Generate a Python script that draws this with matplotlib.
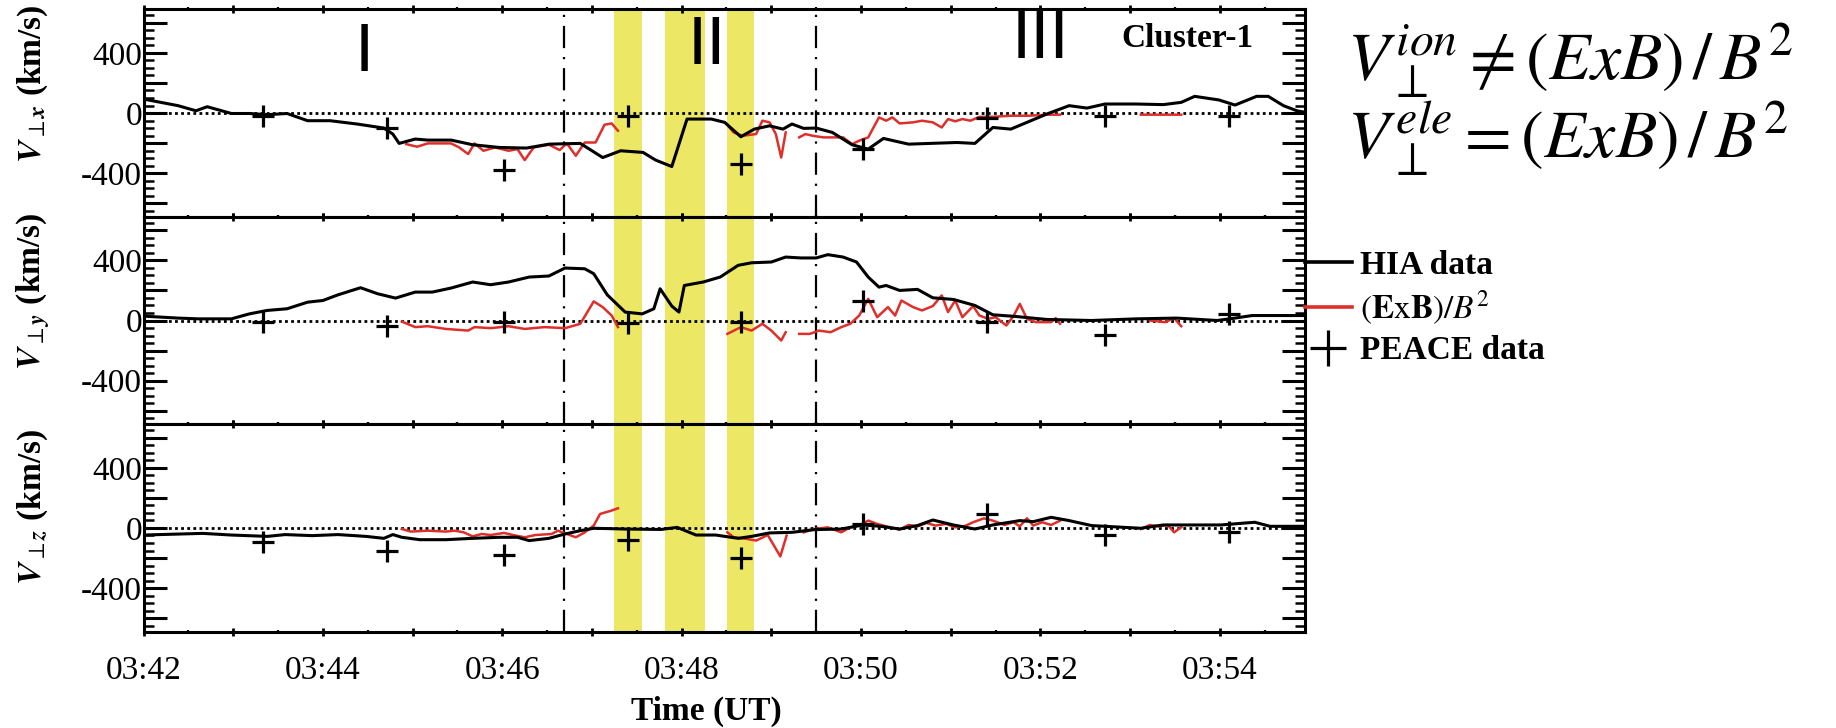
import numpy as np
import matplotlib
matplotlib.use("Agg")
import matplotlib.pyplot as plt
from matplotlib.ticker import MultipleLocator, FuncFormatter

plt.rcParams["font.family"] = "serif"
plt.rcParams["font.serif"] = ["Liberation Serif", "DejaVu Serif"]
plt.rcParams["mathtext.fontset"] = "stix"

NAN = np.nan

# time axis in minutes after 03:42 UT
T_END = 12.95

# HIA perpendicular ion velocity (km/s)
hia_x_t = [0, 0.385, 0.585, 0.71, 0.98, 1.18, 1.38, 1.6, 1.83, 2.08, 2.38, 2.68, 2.78, 2.85,
           3.03, 3.17, 3.43, 3.67, 3.97, 4.27, 4.52, 4.87, 5.12, 5.32, 5.57, 5.71, 5.89, 6.06,
           6.33, 6.48, 6.66, 6.81, 6.98, 7.13, 7.23, 7.36, 7.5, 7.68, 7.9, 8.08, 8.25, 8.53,
           8.77, 9.07, 9.27, 9.47, 9.67, 10.07, 10.32, 10.52, 10.72, 11.07, 11.37, 11.57,
           11.72, 11.99, 12.17, 12.41, 12.54, 12.71, 12.86, 12.95]
hia_x = [93, 49, 15, 42, -3, -3, -11, -3, -51, -51, -73, -100, -140, -202,
         -173, -180, -180, -211, -229, -233, -207, -202, -296, -251, -262, -313, -356, -40,
         -40, -62, -158, -107, -85, -107, -73, -102, -100, -129, -211, -240, -169, -207,
         -202, -196, -202, -96, -107, -7, 49, 33, 60, 60, 56, 71,
         111, 87, 53, 111, 111, 49, 15, 5]

hia_y_t = [0, 0.385, 0.61, 0.98, 1.18, 1.38, 1.6, 1.83, 2.0, 2.17, 2.42, 2.61, 2.81, 3.03,
           3.22, 3.43, 3.67, 3.87, 4.07, 4.3, 4.52, 4.7, 4.92, 5.02, 5.17, 5.37, 5.56, 5.69,
           5.76, 5.89, 5.97, 6.03, 6.24, 6.43, 6.63, 6.78, 7.0, 7.16, 7.33, 7.5, 7.63, 7.8,
           7.95, 8.08, 8.2, 8.28, 8.43, 8.63, 8.8, 9.03, 9.27, 9.47, 9.72, 10.07, 10.57,
           11.07, 11.52, 11.97, 12.17, 12.36, 12.95]
hia_y = [29, 16, 11, 11, 44, 67, 78, 122, 133, 171, 218, 178, 149, 189,
         189, 216, 256, 238, 256, 289, 296, 349, 344, 311, 171, 56, 44, 78,
         211, 96, 56, 233, 256, 289, 367, 384, 389, 422, 416, 416, 438, 422,
         389, 289, 222, 233, 200, 207, 151, 140, 100, 38, 27, 7, 0,
         11, 16, 0, 16, 33, 33]

hia_z_t = [0, 0.66, 0.98, 1.38, 1.58, 1.88, 2.17, 2.48, 2.68, 2.78, 2.88, 3.08, 3.37, 3.67,
           3.97, 4.17, 4.3, 4.52, 4.7, 4.87, 5.02, 5.37, 5.77, 5.95, 6.16, 6.38, 6.63, 6.78,
           6.98, 7.23, 7.48, 7.78, 8.02, 8.22, 8.43, 8.63, 8.8, 9.03, 9.27, 9.47, 9.77, 9.92,
           10.12, 10.32, 10.57, 11.12, 11.37, 12.01, 12.39, 12.56, 12.95]
hia_z = [-47, -36, -47, -56, -44, -51, -44, -56, -69, -44, -62, -78, -78, -69,
         -62, -62, -84, -69, -40, -18, -2, -7, -10, 4, -47, -47, -69, -56,
         -33, -29, -11, -7, 20, 11, -7, 16, 53, 20, -7, 20, 49, 42,
         71, 49, 16, -2, 20, 20, 38, 11, 11]

# E x B / B^2 drift (km/s), NaN marks data gaps
exb_x_t = [2.93, 3.05, 3.17, 3.43, 3.52, 3.62, 3.69, 3.79, 3.92, 4.07, 4.17, 4.25, 4.35, 4.52,
           4.64, 4.72, 4.82, 4.92, 5.04, 5.14, 5.22, 5.29, 5.9,
           6.5, 6.58, 6.68, 6.83, 6.9, 6.98, 7.05, 7.11, 7.16, 7.24,
           7.31, 7.38, 7.46, 7.58, 7.68, 7.8, 7.9, 7.98, 8.08, 8.2, 8.28, 8.35, 8.43, 8.58,
           8.68, 8.8, 8.9, 8.97, 9.05, 9.13, 9.22, 9.32, 9.47, 9.67, 9.87, 10.07, 10.22, 10.6,
           11.12, 11.57]
exb_x = [-207, -224, -202, -202, -229, -273, -202, -251, -229, -251, -240, -313, -229, -211,
         -246, -202, -284, -196, -196, -78, -69, -118, NAN,
         -73, -129, -151, -140, -51, -62, -140, -296, -129, NAN,
         -162, -140, -151, -162, -162, -162, -207, -184, -162, -29, -51, -29, -69, -62,
         -51, -62, -96, -40, -55, -40, -51, -25, -25, -18, -18, -11, -11, NAN,
         -11, -11]

exb_y_t = [2.88, 3.03, 3.17, 3.37, 3.62, 3.69, 3.87, 4.07, 4.25, 4.47, 4.7, 4.87, 5.02, 5.12,
           5.22, 5.29, 5.9,
           6.51, 6.66, 6.78, 6.9, 7.0, 7.11, 7.16, 7.24,
           7.31, 7.43, 7.53, 7.66, 7.78, 7.88, 7.98, 8.08, 8.18, 8.3, 8.38, 8.45, 8.58, 8.68,
           8.8, 8.9, 8.97, 9.05, 9.13, 9.25, 9.32, 9.42, 9.5, 9.62, 9.7, 9.77, 9.85, 9.95,
           10.12, 10.17, 10.22, 10.7,
           11.22, 11.39, 11.49, 11.57]
exb_y = [-7, -44, -38, -56, -67, -44, -51, -38, -56, -44, -51, -22, 127, 89,
         33, -44, NAN,
         -89, -44, -67, -22, -67, -133, -78, NAN,
         -89, -89, -67, -78, -44, -22, 33, 144, 22, 89, 33, 133, 89, 67,
         96, 167, 56, 133, 22, 96, 33, 11, 22, -33, 29, 111, 11, -11,
         -11, 16, -22, NAN,
         0, -11, 16, -38]

exb_z_t = [2.88, 2.98, 3.17, 3.37, 3.47, 3.57, 3.67, 3.77, 3.87, 4.02, 4.12, 4.25, 4.37, 4.55,
           4.62, 4.72, 4.82, 4.92, 5.02, 5.09, 5.22, 5.29, 5.9,
           6.51, 6.58, 6.73, 6.83, 6.96, 7.1, 7.17, 7.26,
           7.36, 7.48, 7.63, 7.78, 7.88, 7.98, 8.08, 8.18, 8.28, 8.43, 8.53, 8.63, 8.73, 8.83,
           8.95, 9.05, 9.15, 9.25, 9.37, 9.47, 9.6, 9.7, 9.77, 9.85, 9.92, 10.02, 10.12, 10.22,
           10.7,
           11.12, 11.22, 11.32, 11.42, 11.49, 11.57]
exb_z = [-7, -24, -18, -24, -18, -29, -56, -40, -47, -33, -47, -62, -47, -40,
         -18, -40, -62, -29, 16, 93, 116, 131, NAN,
         -29, -62, -73, -84, -47, -189, -51, NAN,
         -29, -7, 4, -29, 4, 16, 49, 27, 11, -11, 20, 11, 33, 16,
         27, 4, 11, 38, 64, 49, 20, 38, 11, 64, 16, 38, 20, 49,
         NAN,
         -7, 20, 11, 20, -29, 4]

# PEACE electron velocity (km/s)
peace_t = [1.33, 2.72, 4.02, 5.4, 6.66, 8.02, 9.41, 10.72, 12.1]
peace_x = [-18, -100, -380, -18, -340, -240, -33, -18, -18]
peace_y = [-11, -38, -7, -16, -7, 133, -11, -96, 44]
peace_z = [-96, -151, -180, -78, -202, 27, 93, -47, -24]

# boundaries of regions I / II / III and the shaded intervals
boundary_t = [4.69, 7.50]
shade_start = [5.25, 5.81, 6.505]
shade_end = [5.557, 6.263, 6.812]

components = ["x", "y", "z"]
label_y = [0.64, 0.64, 0.60]

RED = "#DE2F2A"
YELLOW = "#ECE866"
W, H = 1836, 728

fig = plt.figure(figsize=(W / 100, H / 100), dpi=100)
left, right = 143.5 / W, 1305 / W
top, bottom = 1 - 9.3 / H, 1 - 631.7 / H
ph = (top - bottom) / 3

series = [
    (hia_x_t, hia_x, exb_x_t, exb_x, peace_x),
    (hia_y_t, hia_y, exb_y_t, exb_y, peace_y),
    (hia_z_t, hia_z, exb_z_t, exb_z, peace_z),
]

axes = []
for i, (ht, hv, et, ev, pv) in enumerate(series):
    ax = fig.add_axes([left, top - (i + 1) * ph, right - left, ph])
    axes.append(ax)
    for s0, s1 in zip(shade_start, shade_end):
        ax.axvspan(s0, s1, color=YELLOW, lw=0, zorder=0)
    ax.axhline(0, color="black", ls=(0, (1, 1.2)), lw=2.0, zorder=1)
    for bt in boundary_t:
        ax.axvline(bt, color="black", lw=1.6, ls=(0, (10, 4, 1, 4)), zorder=1)
    hia_line, = ax.plot(ht, hv, color="black", lw=2.2, zorder=3, label="HIA data")
    exb_line, = ax.plot(et, ev, color=RED, lw=1.8, zorder=2,
                        label=r"$(\mathbf{E}\mathrm{x}\mathbf{B})/B^{2}$")
    peace_pts, = ax.plot(peace_t, pv, ls="none", marker="+", ms=16, mew=2.3,
                         color="black", zorder=4, label="PEACE data")
    if i == 0:
        handles = [hia_line, exb_line, peace_pts]

    ax.set_xlim(0, T_END)
    ax.set_ylim(-690, 690)
    ax.xaxis.set_major_locator(MultipleLocator(1))
    ax.xaxis.set_minor_locator(MultipleLocator(0.5))
    ax.yaxis.set_major_locator(MultipleLocator(200))
    ax.yaxis.set_minor_locator(MultipleLocator(50))
    ax.yaxis.set_major_formatter(FuncFormatter(
        lambda v, p: f"{int(round(v))}" if int(round(v)) in (-400, 0, 400) else ""))
    ax.tick_params(axis="y", which="major", direction="in", length=16.5, width=2.2,
                   left=True, right=True, labelsize=24, pad=1)
    ax.tick_params(axis="y", which="minor", direction="in", length=7.2, width=1.8,
                   left=True, right=True)
    ax.tick_params(axis="x", which="major", direction="inout", length=6, width=2,
                   top=True, bottom=True, labelsize=24, pad=14)
    ax.tick_params(axis="x", which="minor", direction="inout", length=3, width=1.6,
                   top=True, bottom=True)
    for sp in ax.spines.values():
        sp.set_linewidth(2.2)
    ax.set_ylabel(r"$\mathbfit{V}_{\perp\mathbfit{" + components[i] + r"}}$ (km/s)",
                  fontsize=24, fontweight="bold")
    ax.yaxis.label.set_va("center")
    ax.yaxis.set_label_coords(-0.095, label_y[i])
    if i < 2:
        ax.tick_params(axis="x", labelbottom=False)

axes[2].xaxis.set_major_formatter(FuncFormatter(
    lambda v, p: f"03:{42 + int(round(v)):02d}" if int(round(v)) % 2 == 0 else ""))
axes[2].set_xlabel("Time (UT)", fontsize=24, fontweight="bold", va="center")
axes[2].xaxis.set_label_coords(0.4845, -0.385)

# region labels and spacecraft name
ax1 = axes[0]
for txt, xf, yf in [("I", 0.19, 0.79), ("II", 0.485, 0.825), ("III", 0.772, 0.85)]:
    ax1.text(xf, yf, txt, transform=ax1.transAxes, ha="center", va="center",
             fontsize=50, family="Liberation Sans")
ax1.text(0.956, 0.86, "Cluster-1", transform=ax1.transAxes, ha="right", va="center",
         fontsize=24, fontweight="bold")

leg = axes[1].legend(handles=handles, loc="center left", bbox_to_anchor=(1.0, 0.56),
                     frameon=False, borderaxespad=0, borderpad=0, handlelength=1.4,
                     handletextpad=0.25, labelspacing=0.25, markerscale=1.6,
                     prop={"family": "Liberation Serif", "weight": "bold", "size": 24})
for lh in leg.get_lines()[:2]:
    lh.set_linewidth(2.6)

fig.text(1347 / W, 1 - 80 / H, r"$V_{\perp}^{ion}\neq (ExB)\,/\,B^{2}$",
         fontsize=49, ha="left", va="baseline")
fig.text(1347 / W, 1 - 158 / H, r"$V_{\perp}^{ele}= (ExB)\,/\,B^{2}$",
         fontsize=49, ha="left", va="baseline")

fig.savefig("out.png", dpi=100)
